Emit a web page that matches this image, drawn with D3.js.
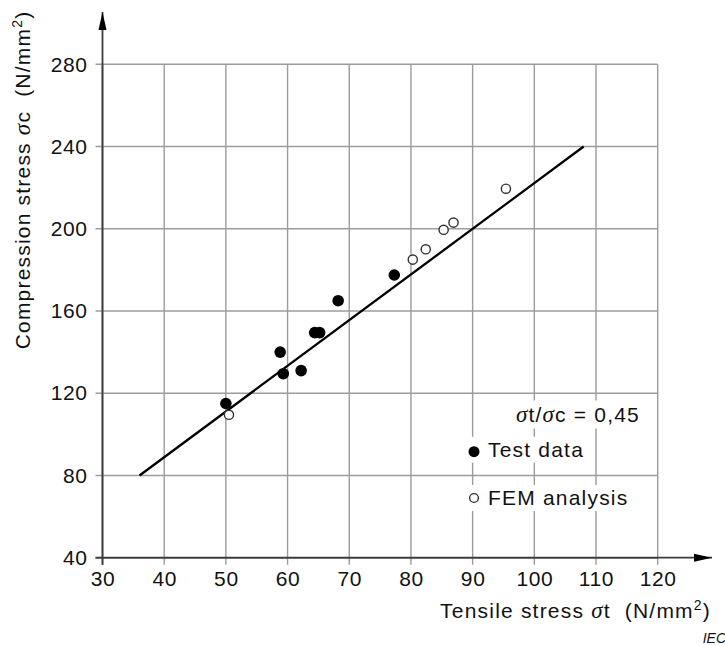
<!DOCTYPE html>
<html>
<head>
<meta charset="utf-8">
<script src="https://cdn.jsdelivr.net/npm/d3@7"></script>
<style>
  html, body { margin: 0; padding: 0; background: #fff; }
  svg text { font-family: "Liberation Sans", Arial, sans-serif; fill: #111; }
</style>
</head>
<body>
<svg id="chart" width="725" height="646"></svg>
<script>
// ---- data ----
const testX = [50, 58.8, 59.3, 62.2, 64.4, 65.2, 68.2, 77.3];
const testY = [115, 140, 129.5, 131, 149.5, 149.5, 165, 177.5];
const femX  = [50.5, 80.3, 82.4, 85.3, 86.9, 95.4];
const femY  = [109.5, 185, 190, 199.5, 203, 219.5];
const fitX  = [36, 108];
const ratio = 0.45;
const xTicks = [30, 40, 50, 60, 70, 80, 90, 100, 110, 120];
const yTicks = [40, 80, 120, 160, 200, 240, 280];
const legendLabels = ["Test data", "FEM analysis"];

// ---- layout ----
const svg = d3.select("#chart");
const x = d3.scaleLinear().domain([30, 120]).range([102.5, 657.7]);
const y = d3.scaleLinear().domain([40, 280]).range([557.7, 64.3]);
const x0 = x(30), y0 = y(40);
const gridColor = "#9c9c9c", axisColor = "#3c3c3c";
const LS = "1.2px";

// gridlines (extend a little beyond axes as ticks)
const grid = svg.append("g");
grid.selectAll("line.v").data(xTicks).enter().append("line")
  .attr("x1", d => x(d)).attr("x2", d => x(d))
  .attr("y1", y(280)).attr("y2", y0 + 7)
  .attr("stroke", d => d === 30 ? axisColor : gridColor).attr("stroke-width", 1.4);
grid.selectAll("line.h").data(yTicks).enter().append("line")
  .attr("x1", x0 - 7).attr("x2", x(120))
  .attr("y1", d => y(d)).attr("y2", d => y(d))
  .attr("stroke", d => d === 40 ? axisColor : gridColor).attr("stroke-width", 1.4);

// axes labels via d3 axis
const xAxis = svg.append("g").attr("transform", `translate(0,${y0})`)
  .call(d3.axisBottom(x).tickValues(xTicks).tickSize(0).tickPadding(13));
const yAxis = svg.append("g").attr("transform", `translate(${x0},0)`)
  .call(d3.axisLeft(y).tickValues(yTicks).tickSize(0).tickPadding(15));
[xAxis, yAxis].forEach(a => {
  a.select(".domain").remove();
  a.selectAll("text").style("font-size", "21px").style("letter-spacing", "0.6px")
    .style("font-family", "'Liberation Sans', Arial, sans-serif").attr("fill", "#111");
});

// axis lines with arrows
const defs = svg.append("defs");
defs.append("marker").attr("id", "arr").attr("viewBox", "0 0 18 10")
  .attr("refX", 18).attr("refY", 5).attr("markerWidth", 18).attr("markerHeight", 10)
  .attr("markerUnits", "userSpaceOnUse").attr("orient", "auto")
  .append("path").attr("d", "M0,1 L18,5 L0,9 Z").attr("fill", "#000");
svg.append("line").attr("x1", x0 - 7).attr("x2", 712).attr("y1", y0).attr("y2", y0)
  .attr("stroke", axisColor).attr("stroke-width", 1.8).attr("marker-end", "url(#arr)");
svg.append("line").attr("x1", x0).attr("x2", x0).attr("y1", y0 + 7).attr("y2", 12)
  .attr("stroke", axisColor).attr("stroke-width", 1.8).attr("marker-end", "url(#arr)");

// fit line sigma_c = sigma_t / ratio
svg.append("line")
  .attr("x1", x(fitX[0])).attr("y1", y(fitX[0] / ratio))
  .attr("x2", x(fitX[1])).attr("y2", y(fitX[1] / ratio))
  .attr("stroke", "#000").attr("stroke-width", 2.3);

// data points
const testData = testX.map((v, i) => [v, testY[i]]);
const femData = femX.map((v, i) => [v, femY[i]]);
svg.append("g").selectAll("circle").data(testData).enter().append("circle")
  .attr("cx", d => x(d[0])).attr("cy", d => y(d[1])).attr("r", 5.8).attr("fill", "#000");
svg.append("g").selectAll("circle").data(femData).enter().append("circle")
  .attr("cx", d => x(d[0])).attr("cy", d => y(d[1])).attr("r", 4.6)
  .attr("fill", "#fff").attr("stroke", "#333").attr("stroke-width", 1.4);

// legend with white backgrounds
function sigma(t, sub) {
  t.append("tspan").text("σ").style("font-family", "'Liberation Serif', 'Times New Roman', serif")
    .style("font-style", "italic").style("font-size", "23px");
  t.append("tspan").text(sub);
}
const leg = svg.append("g");
const ratioText = leg.append("text").attr("x", 640).attr("y", 421.5)
  .attr("text-anchor", "end").style("font-size", "21px").style("letter-spacing", LS);
sigma(ratioText, "t/");
sigma(ratioText, "c = 0,45");

const items = [
  {label: legendLabels[0], filled: true, cy: 451.7, ty: 456.7},
  {label: legendLabels[1], filled: false, cy: 498, ty: 505}
];
const itemTexts = items.map(it => leg.append("text").attr("x", 488).attr("y", it.ty)
  .style("font-size", "21px").style("letter-spacing", LS).text(it.label));

// background rects
const bgs = [ratioText].concat(itemTexts);
bgs.forEach((t, i) => {
  const b = t.node().getBBox();
  const padL = i === 0 ? 4 : 24;
  leg.insert("rect", ":first-child")
    .attr("x", b.x - padL).attr("y", b.y - 1)
    .attr("width", b.width + padL + 6).attr("height", b.height + 3)
    .attr("fill", "#fff");
});
items.forEach(it => {
  leg.append("circle").attr("cx", 474).attr("cy", it.cy)
    .attr("r", it.filled ? 5.5 : 4.4)
    .attr("fill", it.filled ? "#000" : "#fff")
    .attr("stroke", it.filled ? "none" : "#333").attr("stroke-width", 1.4);
});

// axis titles
const xt = svg.append("text").attr("x", 711).attr("y", 618).attr("text-anchor", "end")
  .style("font-size", "21px").style("letter-spacing", LS);
xt.append("tspan").text("Tensile stress ");
sigma(xt, "t\u00a0\u00a0(N/mm");
xt.append("tspan").text("2").style("font-size", "14px").attr("baseline-shift", "super");
xt.append("tspan").text(")");

const yt = svg.append("text").attr("transform", "translate(30,180) rotate(-90)")
  .attr("text-anchor", "middle").style("font-size", "21px").style("letter-spacing", LS);
yt.append("tspan").text("Compression stress ");
sigma(yt, "c\u00a0\u00a0(N/mm");
yt.append("tspan").text("2").style("font-size", "14px").attr("baseline-shift", "super");
yt.append("tspan").text(")");

svg.append("text").attr("x", 726).attr("y", 643).attr("text-anchor", "end")
  .style("font-size", "14px").style("font-style", "italic").text("IEC");
</script>
</body>
</html>
